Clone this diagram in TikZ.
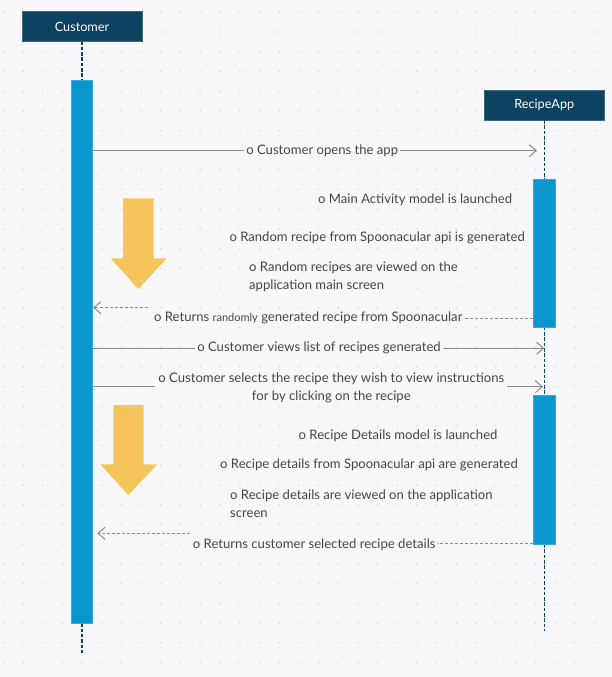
\documentclass[tikz,border=0pt]{standalone}
\usepackage{fontspec}
\setmainfont{Lato}
\usetikzlibrary{arrows.meta}
\definecolor{bgc}{HTML}{F8F8FA}
\definecolor{dotc}{HTML}{DADCE1}
\definecolor{headc}{HTML}{0D4260}
\definecolor{barc}{HTML}{0A96CE}
\definecolor{barline}{HTML}{35A8DA}
\definecolor{yel}{HTML}{F5C55B}
\definecolor{txtc}{HTML}{454545}
\definecolor{linec}{HTML}{8A8A8A}
\tikzset{
  head/.style={fill=headc, draw=headc!80!white, line width=0.6pt, text=white, minimum width=120pt, minimum height=29.6pt, inner sep=0pt, font=\fontsize{12.7}{15}\selectfont},
  actbar/.style={fill=barc, draw=barline, line width=0.8pt, minimum width=21.4pt, inner sep=0pt},
  life/.style={draw=headc, line width=1.5pt, dash pattern=on 3.5pt off 1.8pt},
  msg/.style={draw=linec, line width=1pt, -{Straight Barb[length=7pt,width=12pt]}},
  ret/.style={draw=linec, line width=1pt, dash pattern=on 3pt off 2pt},
  rettip/.style={ret, -{Straight Barb[length=7pt,width=12pt]}},
  lab/.style={fill=bgc, text=txtc, inner xsep=2pt, inner ysep=0.5pt, font=\fontsize{13.1}{18}\selectfont},
  desc/.style={text=txtc, inner sep=0pt, font=\fontsize{13.1}{18}\selectfont},
  bigarrow/.style={fill=yel}
}
\begin{document}
\begin{tikzpicture}[x=1pt,y=-1pt]
\useasboundingbox (0,0) rectangle (612,677);
\fill[bgc] (0,0) rectangle (612,677);
\foreach \i in {0,...,30}{\foreach \j in {0,...,33}{\fill[dotc] (3.3+19.7*\i,12.3+19.7*\j) circle (0.95pt);}}

% headers
\node[head] (cust) at (82,26.5) {Customer};
\node[head] (app) at (544.3,105) {RecipeApp};

% lifelines
\coordinate (custend) at (82,653);
\coordinate (append) at (544.3,631);
\coordinate (custtop) at (82,80);
\draw[life] (cust.south) -- (custtop);
\draw[life] (82,623.3) -- (custend);
\draw[life] (app.south) -- (append);

% activation bars
\node[actbar, minimum height=543.3pt] (custbar) at (82,351.65) {};
\node[actbar, minimum width=22pt, minimum height=148pt] (appbar1) at (544.7,253) {};
\node[actbar, minimum width=22pt, minimum height=148.3pt] (appbar2) at (544.7,469.85) {};

% yellow arrows
\fill[bigarrow] (123,198.3) -- (153.7,198.3) -- (153.7,258.3) -- (166.7,258.3) -- (138.3,289) -- (110.7,258.3) -- (123,258.3) -- cycle;
\fill[bigarrow] (113.3,405) -- (143.7,405) -- (143.7,464.3) -- (157.3,464.3) -- (128.3,495) -- (100.3,464.3) -- (113.3,464.3) -- cycle;

% message 1
\coordinate (m1) at (537,150.7);
\draw[msg] (custbar.east |- m1) -- (m1);
\node[lab] (l1) at (322.2,150.7) {o Customer opens the app};

% descriptions
\node[desc, anchor=east] (d1) at (512.3,200) {o Main Activity model is launched};
\node[desc, anchor=west] (d2) at (229.3,238.3) {o Random recipe from Spoonacular api is generated};
\node[desc, anchor=west, align=left] (d3) at (249,277.2) {o Random recipes are viewed on the\\application main screen};

% return 1
\coordinate (r1) at (534,318);
\coordinate (r1s) at (148,307.7);
\node[desc] (l2) at (308.3,318.3) {o Returns {\fontsize{11}{12}\selectfont randomly} generated recipe from Spoonacular};
\draw[ret] (appbar1.west |- r1) -- ([xshift=2pt]l2.east |- r1);
\draw[rettip] (r1s) -- (custbar.east |- r1s);

% message 3
\coordinate (m3) at (544.3,348.3);
\draw[msg] (custbar.east |- m3) -- (m3);
\node[lab] (l3) at (319,348.3) {o Customer views list of recipes generated};

% message 4
\coordinate (m4) at (543,386.7);
\draw[msg] (custbar.east |- m4) -- (m4);
\node[lab, align=center, inner xsep=3pt] (l4) at (331.3,388) {o Customer selects the recipe they wish to view instructions\\for by clicking on the recipe};

% descriptions 2
\node[desc, anchor=east] (d4) at (497.7,436) {o Recipe Details model is launched};
\node[desc, anchor=west] (d5) at (220,465) {o Recipe details from Spoonacular api are generated};
\node[desc, anchor=west, align=left] (d6) at (230,503.8) {o Recipe details are viewed on the application\\screen};

% return 2
\coordinate (r2) at (534,543.3);
\coordinate (r2s) at (189.7,533.3);
\coordinate (r2e) at (97.3,533.3);
\node[desc] (l5) at (314.2,544.3) {o Returns customer selected recipe details};
\draw[ret] (appbar2.west |- r2) -- ([xshift=2pt]l5.east |- r2);
\draw[rettip] (r2s) -- (r2e);
\end{tikzpicture}
\end{document}
